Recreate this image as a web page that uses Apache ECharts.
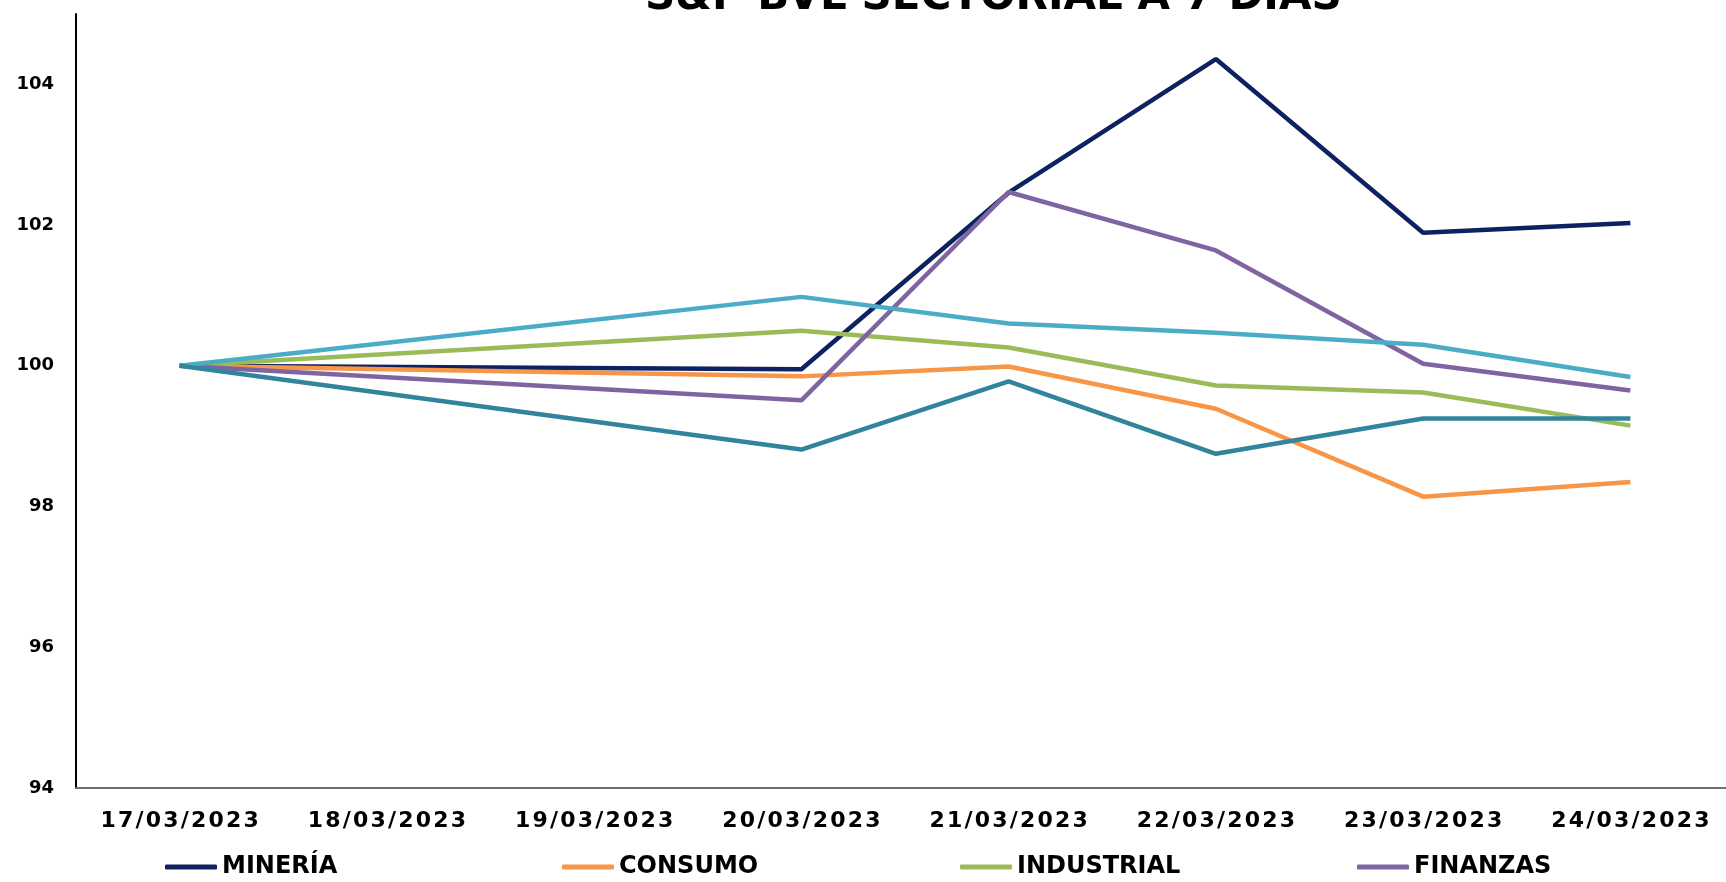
<!DOCTYPE html>
<html>
<head>
<meta charset="utf-8">
<script src="https://cdn.jsdelivr.net/npm/echarts@6/dist/echarts.min.js"></script>
<style>
  html, body { margin: 0; padding: 0; background: #fff; }
  #chart { width: 1726px; height: 882px; }
</style>
</head>
<body>
<div id="chart"></div>
<script>
  // fechas del eje x (18 y 19 sin cotización)
  const fechas = ['17/03/2023', '18/03/2023', '19/03/2023', '20/03/2023', '21/03/2023', '22/03/2023', '23/03/2023', '24/03/2023'];
  const yTicks = [94, 96, 98, 100, 102, 104];

  const mineria = [100, null, null, 99.95, 102.46, 104.36, 101.89, 102.03];
  const consumo = [100, null, null, 99.85, 99.99, 99.39, 98.14, 98.35];
  const industrial = [100, null, null, 100.50, 100.26, 99.72, 99.62, 99.15];
  const finanzas = [100, null, null, 99.51, 102.47, 101.64, 100.03, 99.65];
  const serviciosPub = [100, null, null, 100.98, 100.60, 100.47, 100.30, 99.84];
  const construccion = [100, null, null, 98.81, 99.78, 98.75, 99.25, 99.25];

  const font = 'DejaVu Sans';
  // espaciado entre letras con espacios muy finos
  const spaced = (s) => String(s).split('').join('\u200A');

  function serie(name, data, color) {
    return {
      name: name,
      type: 'line',
      data: data,
      connectNulls: true,
      symbol: 'none',
      lineStyle: { color: color, width: 4.5 },
      itemStyle: { color: color },
    };
  }

  function leyenda(name, left) {
    return {
      data: [name],
      left: left,
      top: 850,
      icon: 'roundRect',
      itemWidth: 52,
      itemHeight: 5,
      itemGap: 0,
      textStyle: { fontFamily: font, fontWeight: 'bold', fontSize: 24, color: '#000', padding: [0, 0, 0, 0] },
    };
  }

  const chart = echarts.init(document.getElementById('chart'));
  chart.setOption({
    animation: false,
    title: {
      text: 'S&P BVL SECTORIAL A 7 DÍAS',
      left: 640,
      top: -28,
      textStyle: { fontFamily: font, fontWeight: 'bold', fontSize: 42, color: '#000' },
    },
    legend: [
      leyenda('MINERÍA', 160),
      leyenda('CONSUMO', 557),
      leyenda('INDUSTRIAL', 955),
      leyenda('FINANZAS', 1352),
    ],
    grid: { left: 76, width: 1658, top: 14, bottom: 94, outerBoundsMode: 'none' },
    xAxis: {
      type: 'category',
      data: fechas,
      boundaryGap: true,
      axisLine: { lineStyle: { color: '#6e6e6e', width: 2 } },
      axisTick: { show: false },
      axisLabel: {
        margin: 22,
        interval: 0,
        fontFamily: font,
        fontWeight: 'bold',
        fontSize: 22,
        color: '#000',
        formatter: spaced,
      },
    },
    yAxis: {
      type: 'value',
      min: yTicks[0],
      max: 105,
      interval: 2,
      splitLine: { show: false },
      axisLine: { show: true, lineStyle: { color: '#000', width: 2 } },
      axisTick: { show: false },
      axisLabel: {
        showMaxLabel: false,
        margin: 22,
        fontFamily: font,
        fontWeight: 'bold',
        fontSize: 18,
        color: '#000',
      },
    },
    series: [
      serie('MINERÍA', mineria, '#0d2260'),
      serie('CONSUMO', consumo, '#f79646'),
      serie('INDUSTRIAL', industrial, '#9bbb59'),
      serie('FINANZAS', finanzas, '#8064a2'),
      serie('SERVICIOS PÚBLICOS', serviciosPub, '#4bacc6'),
      serie('CONSTRUCCIÓN', construccion, '#31849b'),
    ],
  });
</script>
</body>
</html>
